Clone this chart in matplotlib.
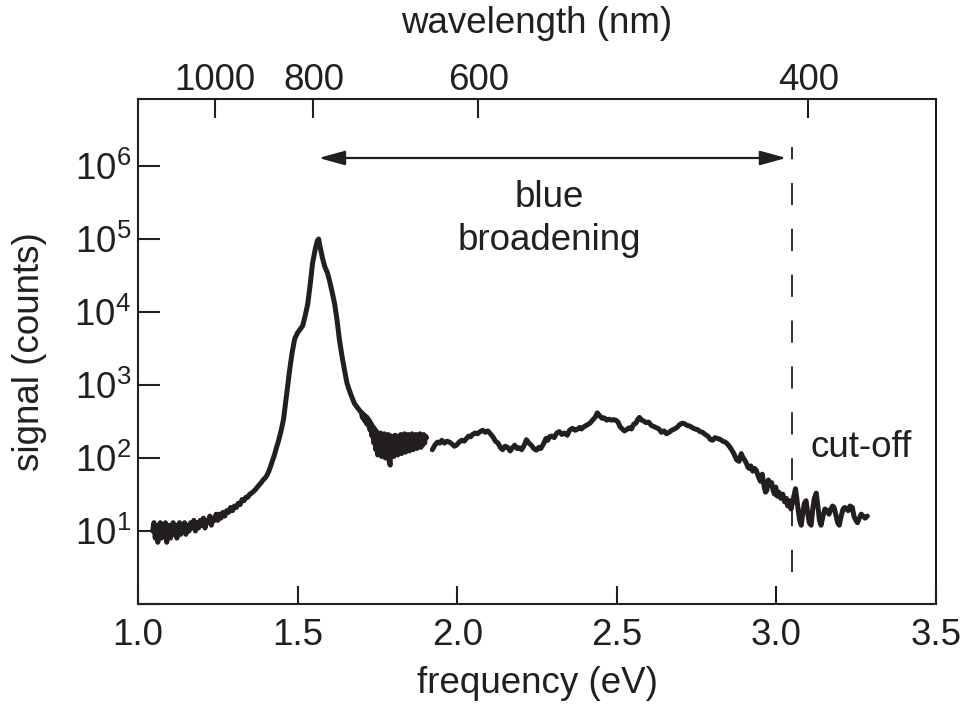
import numpy as np
import matplotlib
matplotlib.use('Agg')
import matplotlib.pyplot as plt
from matplotlib.ticker import FixedLocator, FixedFormatter, NullLocator

plt.rcParams['font.family'] = ['Liberation Sans', 'DejaVu Sans']
plt.rcParams['mathtext.fontset'] = 'custom'
plt.rcParams['mathtext.rm'] = 'Liberation Sans'
plt.rcParams['mathtext.it'] = 'Liberation Sans:italic'

INK = '#231f20'
FS = 26.5

# spectrum: photon energy (eV) and signal (counts)
energy = [
    # low energy tail
    1.046, 1.050, 1.054, 1.058, 1.062, 1.066, 1.070, 1.074, 1.078, 1.082,
    1.086, 1.090, 1.094, 1.098, 1.102, 1.106, 1.110, 1.114, 1.118, 1.122,
    1.126, 1.130, 1.134, 1.138, 1.142, 1.146, 1.150, 1.155, 1.160, 1.165,
    1.170, 1.175, 1.180, 1.185, 1.190, 1.195, 1.200, 1.205, 1.210, 1.215,
    1.220, 1.225, 1.230, 1.235, 1.240, 1.245, 1.250, 1.255, 1.260, 1.266,
    1.272, 1.278, 1.284, 1.290, 1.296, 1.302, 1.308, 1.314, 1.320, 1.326,
    1.332, 1.338, 1.344, 1.350, 1.356, 1.362, 1.368, 1.374, 1.380, 1.386,
    1.392, 1.398, 1.404, 1.410, 1.416, 1.422, 1.428, 1.434, 1.440, 1.446,
    # main peak
    1.452, 1.456, 1.462, 1.468, 1.475, 1.483, 1.491, 1.500, 1.508, 1.516,
    1.524, 1.532, 1.540, 1.547, 1.556, 1.562, 1.566, 1.570, 1.578, 1.585,
    1.593, 1.600, 1.608, 1.616, 1.624, 1.631, 1.639, 1.647, 1.655, 1.662,
    1.669, 1.678, 1.686, 1.694,
    # noisy stretch after the peak
    1.700, 1.703, 1.706, 1.709, 1.712, 1.715, 1.718, 1.721, 1.724, 1.727,
    1.730, 1.733, 1.736, 1.739, 1.742, 1.745, 1.748, 1.751, 1.754, 1.757,
    1.760, 1.763, 1.766, 1.769, 1.772, 1.775, 1.778, 1.781, 1.784, 1.787,
    1.790, 1.793, 1.796, 1.799, 1.802, 1.805, 1.808, 1.811, 1.814, 1.817,
    1.820, 1.823, 1.826, 1.829, 1.832, 1.835, 1.838, 1.841, 1.844, 1.847,
    1.850, 1.853, 1.856, 1.859, 1.862, 1.865, 1.868, 1.871, 1.874, 1.877,
    1.880, 1.883, 1.886, 1.889, 1.892, 1.895, 1.898, 1.901, 1.904,
    # gap, then broad plateau
    1.912, 1.922, 1.930, 1.938, 1.945, 1.952, 1.960,
    1.968, 1.976, 1.984, 1.991, 1.998, 2.006, 2.014, 2.022, 2.029, 2.036,
    2.042, 2.048, 2.056, 2.064, 2.072, 2.080, 2.088, 2.096, 2.104, 2.112,
    2.120, 2.128, 2.135, 2.142, 2.150, 2.158, 2.166, 2.173, 2.180, 2.188,
    2.195, 2.202, 2.210, 2.217, 2.225, 2.232, 2.240, 2.248, 2.256, 2.262,
    2.270, 2.278, 2.284, 2.289, 2.296, 2.304, 2.312, 2.320, 2.328, 2.336,
    2.345, 2.352, 2.361, 2.370, 2.378, 2.384, 2.389, 2.398, 2.408, 2.416,
    2.424, 2.432, 2.439, 2.446, 2.454, 2.461, 2.468, 2.476, 2.483, 2.490,
    2.497, 2.504, 2.510, 2.517, 2.524, 2.531, 2.539, 2.546, 2.553, 2.560,
    2.566, 2.571, 2.578, 2.585, 2.592, 2.600, 2.608, 2.616, 2.624, 2.632,
    2.640, 2.648, 2.656, 2.664, 2.672, 2.681, 2.690, 2.698, 2.706, 2.712,
    2.720, 2.728, 2.737, 2.745, 2.753, 2.761, 2.769, 2.777, 2.785, 2.793,
    2.800, 2.808, 2.816, 2.824, 2.832, 2.840, 2.847, 2.855, 2.862, 2.869,
    # fall towards the cut-off
    2.875, 2.883, 2.890, 2.896, 2.900, 2.906, 2.911, 2.915, 2.920, 2.926,
    2.932, 2.937, 2.944, 2.950, 2.956, 2.962, 2.966, 2.970, 2.975, 2.980,
    2.985, 2.990, 2.994, 2.998, 3.003, 3.008, 3.014, 3.020, 3.026, 3.031,
    3.036, 3.041, 3.046, 3.050, 3.055, 3.060, 3.064, 3.068, 3.073, 3.078,
    3.083, 3.088, 3.093, 3.098, 3.103, 3.109, 3.114, 3.119, 3.125, 3.130,
    3.135, 3.140, 3.146, 3.152, 3.159, 3.165, 3.171, 3.176, 3.181, 3.186,
    3.192, 3.197, 3.203, 3.209, 3.214, 3.219, 3.225, 3.231, 3.238, 3.243,
    3.249, 3.254, 3.260, 3.266, 3.272, 3.278, 3.285,
]
nan = float('nan')
counts = [
    # low energy tail
    10, 13, 8, 12, 7, 11, 13, 8, 12, 9,
    13, 7, 11, 12, 8, 11, 13, 9, 12, 8,
    11, 13, 9, 12, 10, 13, 9, 12, 10, 13,
    11, 14, 10, 13, 11, 14, 12, 15, 11, 14,
    13, 16, 12, 15, 14, 17, 14, 17, 15, 18,
    16, 19, 18, 21, 19, 22, 21, 24, 23, 27,
    26, 29, 29, 32, 33, 35, 37, 40, 43, 46,
    50, 53, 58, 66, 78, 94, 112, 140, 170, 215,
    # main peak
    280, 340, 560, 900, 1600, 2800, 4300, 5200, 5800, 6500,
    9000, 13000, 25000, 47000, 75000, 95000, 100000, 80000, 55000, 42000,
    35000, 27000, 19000, 13000, 7500, 4200, 2500, 1600, 1050, 850,
    700, 560, 500, 450,
    # noisy stretch after the peak
    420, 360, 400, 330, 380, 300, 360, 280, 330, 240,
    300, 200, 270, 160, 250, 130, 230, 110, 210, 120,
    220, 105, 200, 130, 215, 100, 190, 120, 210, 90,
    80, 200, 115, 190, 105, 205, 120, 200, 110, 195,
    125, 210, 115, 200, 135, 215, 120, 205, 130, 210,
    125, 200, 140, 215, 130, 205, 140, 210, 135, 200,
    150, 215, 140, 205, 150, 210, 160, 200, 190,
    # gap, then broad plateau
    nan, 130, 150, 165, 160, 175, 160,
    170, 165, 155, 145, 150, 165, 175, 170, 185, 200,
    195, 210, 220, 215, 230, 240, 225, 235, 215, 195,
    170, 160, 140, 130, 145, 140, 125, 138, 150, 135,
    138, 130, 150, 178, 160, 150, 135, 128, 140, 135,
    155, 185, 175, 195, 200, 190, 220, 230, 210, 220,
    205, 240, 255, 240, 250, 262, 250, 270, 285, 300,
    330, 360, 415, 380, 350, 355, 330, 340, 330, 335,
    330, 310, 270, 250, 235, 245, 260, 250, 290, 300,
    340, 360, 330, 320, 305, 310, 280, 270, 260, 250,
    225, 235, 215, 225, 240, 250, 265, 290, 300, 295,
    280, 275, 260, 250, 245, 230, 225, 210, 200, 180,
    175, 190, 185, 180, 170, 165, 155, 140, 125, 110,
    # fall towards the cut-off
    95, 90, 115, 100, 95, 85, 75, 72, 78, 66,
    72, 68, 55, 48, 60, 40, 34, 36, 50, 42,
    46, 36, 32, 40, 30, 34, 28, 32, 25, 28,
    22, 26, 20, 24, 30, 38, 28, 20, 14, 12,
    18, 24, 26, 18, 13, 12, 20, 28, 33, 22,
    14, 12, 16, 20, 19, 17, 20, 22, 21, 17,
    13, 12, 16, 20, 21, 20, 19, 22, 21, 16,
    14, 13, 15, 17, 16, 15, 16,
]
assert len(energy) == len(counts)

x_ticks = [1.0, 1.5, 2.0, 2.5, 3.0, 3.5]
x_tick_labels = ['1.0', '1.5', '2.0', '2.5', '3.0', '3.5']
y_ticks = [1, 1e1, 1e2, 1e3, 1e4, 1e5, 1e6]
y_tick_labels = ['', r'10$^{1}$', r'10$^{2}$', r'10$^{3}$', r'10$^{4}$',
                 r'10$^{5}$', r'10$^{6}$']
wavelength_ticks = [1000, 800, 600, 400]   # nm
cutoff_ev = 3.05
broadening = (1.566, 3.031)
hc = 1239.84  # eV nm

fig = plt.figure(figsize=(9.65, 7.06), dpi=100)
ax = fig.add_axes([0.1430, 0.1445, 0.8269, 0.7153])

ax.plot(energy, counts, color=INK, lw=3.6, solid_joinstyle='round',
        solid_capstyle='round')

ax.set_yscale('log')
ax.set_xlim(1.0, 3.5)
ax.set_ylim(1, 8.3e6)

ax.xaxis.set_major_locator(FixedLocator(x_ticks))
ax.xaxis.set_major_formatter(FixedFormatter(x_tick_labels))
ax.yaxis.set_major_locator(FixedLocator(y_ticks))
ax.yaxis.set_major_formatter(FixedFormatter(y_tick_labels))
ax.yaxis.set_minor_locator(NullLocator())
ax.xaxis.set_minor_locator(NullLocator())

for sp in ax.spines.values():
    sp.set_linewidth(1.5)
    sp.set_color(INK)
ax.tick_params(axis='x', direction='in', length=13, width=1.5, color=INK,
               labelsize=FS, labelcolor=INK, pad=10)
ax.tick_params(axis='y', direction='in', length=16, width=1.5, color=INK,
               labelsize=FS, labelcolor=INK, pad=5)

ax.set_xlabel('frequency (eV)', fontsize=FS, color=INK)
ax.xaxis.set_label_coords(0.5, -0.122)
ax.set_ylabel('signal (counts)', fontsize=FS, color=INK)
ax.yaxis.set_label_coords(-0.114, 0.5)

# wavelength axis on top
top = ax.twiny()
top.set_xlim(ax.get_xlim())
top.xaxis.set_major_locator(FixedLocator([hc / w for w in wavelength_ticks]))
top.xaxis.set_major_formatter(FixedFormatter([str(w) for w in wavelength_ticks]))
top.xaxis.set_minor_locator(NullLocator())
top.tick_params(axis='x', direction='in', length=14, width=1.5, color=INK,
                labelsize=FS, labelcolor=INK, pad=1)
top.set_xlabel('wavelength (nm)', fontsize=FS, color=INK)
top.xaxis.set_label_coords(0.5, 1.13)
for sp in top.spines.values():
    sp.set_visible(False)

# cut-off marker and broadening arrow
ax.plot([cutoff_ev, cutoff_ev], [2.75, 1.8e6], color=INK, lw=1.3,
        dashes=(12.3, 13.1))
ax.annotate('', xy=(broadening[1], 1.29e6), xytext=(broadening[0], 1.29e6),
            arrowprops=dict(arrowstyle='<|-|>,head_length=0.8,head_width=0.22',
                            mutation_scale=20, color=INK, lw=1.6,
                            shrinkA=0, shrinkB=0))
ax.text(2.29, 1.9e5, 'blue\nbroadening', ha='center', va='center',
        fontsize=FS, color=INK, linespacing=1.3)
ax.text(3.266, 141, 'cut-off', ha='center', va='center', fontsize=FS,
        color=INK)

fig.savefig('out.png', dpi=100)
